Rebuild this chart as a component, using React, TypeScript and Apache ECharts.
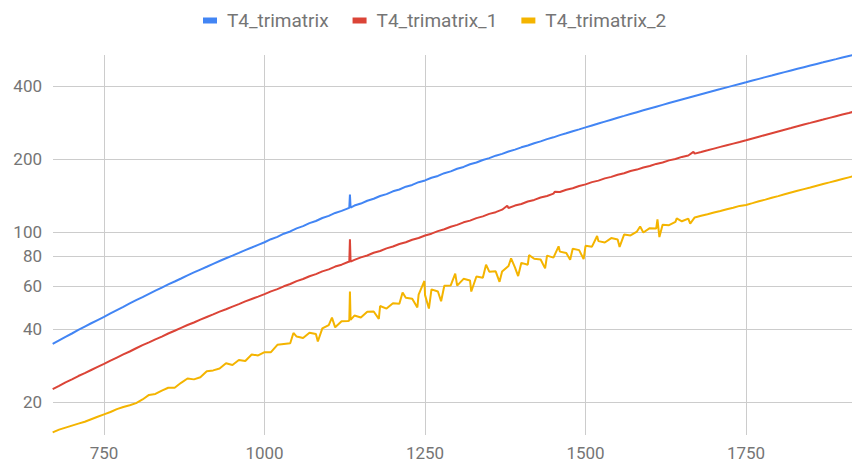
import React, { useEffect, useRef } from "react";
import * as echarts from "echarts";

// matrix size n (x axis)
const nValues = [
  670, 680, 690, 700, 710, 720, 730, 740, 750, 760,
  770, 780, 790, 800, 810, 820, 830, 840, 850, 860,
  870, 880, 890, 900, 910, 920, 930, 940, 950, 960,
  970, 980, 990, 1000, 1010, 1020, 1030, 1040, 1050, 1060,
  1070, 1080, 1090, 1100, 1110, 1120, 1130, 1140, 1150, 1160,
  1170, 1180, 1190, 1200, 1210, 1220, 1230, 1240, 1250, 1260,
  1270, 1280, 1290, 1300, 1310, 1320, 1330, 1340, 1350, 1360,
  1370, 1380, 1390, 1400, 1410, 1420, 1430, 1440, 1450, 1460,
  1470, 1480, 1490, 1500, 1510, 1520, 1530, 1540, 1550, 1560,
  1570, 1580, 1590, 1600, 1610, 1620, 1630, 1640, 1650, 1660,
  1670, 1680, 1690, 1700, 1710, 1720, 1730, 1740, 1750, 1760,
  1770, 1780, 1790, 1800, 1810, 1820, 1830, 1840, 1850, 1860,
  1870, 1880, 1890, 1900, 1910, 1920,
];

const trimatrix = [
  34.7, 35.9, 37.1, 38.3, 39.6, 40.9, 42.2, 43.5, 44.8, 46.3,
  47.8, 49.3, 50.9, 52.5, 54.1, 55.8, 57.5, 59.2, 61.0, 62.7,
  64.5, 66.4, 68.3, 70.2, 72.1, 74.1, 76.1, 78.1, 80.1, 82.2,
  84.4, 86.5, 88.7, 90.9, 93.6, 95.7, 98.6, 100.7, 103.7, 105.9,
  109.0, 111.2, 114.4, 116.7, 120.0, 122.4, 125.4, 128.7, 131.2, 134.7,
  137.3, 140.9, 143.5, 147.3, 149.9, 153.9, 156.5, 160.6, 163.3, 167.5,
  170.4, 174.9, 177.9, 182.5, 185.6, 190.3, 193.5, 198.3, 201.7, 206.5,
  210.1, 214.9, 218.7, 223.5, 227.5, 232.4, 236.5, 241.5, 245.7, 250.8,
  255.2, 260.3, 265.0, 269.9, 275.0, 280.1, 285.2, 290.4, 295.7, 301.0,
  306.4, 311.8, 317.3, 322.9, 328.5, 334.2, 339.9, 345.7, 351.6, 357.5,
  363.5, 369.6, 375.7, 381.9, 388.1, 394.5, 400.9, 407.3, 413.8, 420.8,
  427.6, 434.6, 441.5, 448.6, 455.8, 463.0, 470.3, 477.6, 485.0, 492.6,
  500.1, 507.8, 515.5, 523.4, 531.2, 539.2,
];

const trimatrix1 = [
  22.6, 23.3, 24.1, 24.8, 25.6, 26.3, 27.1, 27.9, 28.7, 29.6,
  30.5, 31.4, 32.3, 33.3, 34.3, 35.2, 36.2, 37.2, 38.3, 39.3,
  40.4, 41.5, 42.5, 43.7, 44.8, 45.9, 47.1, 48.2, 49.4, 50.6,
  51.9, 53.1, 54.3, 55.6, 57.1, 58.3, 59.9, 61.2, 62.9, 64.2,
  65.9, 67.2, 69.0, 70.3, 72.2, 73.5, 75.4, 76.9, 78.8, 80.2,
  82.3, 83.7, 85.8, 87.3, 89.4, 90.9, 93.1, 94.7, 96.9, 98.6,
  101.0, 102.8, 105.3, 107.2, 109.8, 111.6, 114.3, 116.2, 119.0, 120.9,
  123.8, 125.8, 128.7, 130.7, 133.7, 135.8, 138.9, 141.0, 144.1, 146.3,
  149.5, 151.7, 155.0, 157.3, 160.7, 163.0, 166.5, 168.9, 172.4, 174.9,
  178.5, 181.0, 184.7, 187.3, 191.0, 193.7, 197.5, 200.2, 204.1, 206.9,
  210.6, 213.9, 217.3, 220.8, 224.4, 227.9, 231.5, 235.1, 238.8, 243.1,
  247.2, 251.3, 255.5, 259.8, 264.1, 268.4, 272.8, 277.3, 281.7, 286.3,
  290.8, 295.5, 300.2, 304.9, 309.6, 314.5,
];

const trimatrix2 = [
  15.0, 15.4, 15.7, 16.0, 16.3, 16.6, 17.0, 17.4, 17.8, 18.2,
  18.7, 19.1, 19.4, 19.8, 20.5, 21.4, 21.6, 22.3, 22.9, 22.9,
  24.0, 25.0, 24.8, 25.3, 26.8, 27.0, 27.5, 28.9, 28.4, 29.8,
  29.5, 31.4, 31.1, 32.1, 32.1, 34.4, 34.7, 34.9, 37.2, 36.7,
  38.6, 38.1, 40.2, 41.5, 40.6, 43.0, 43.1, 45.4, 44.6, 47.1,
  47.2, 49.7, 48.5, 51.0, 50.8, 53.7, 53.2, 55.4, 55.1, 58.2,
  57.0, 60.2, 60.4, 60.3, 64.3, 63.3, 65.7, 64.9, 68.8, 69.0,
  68.9, 72.6, 71.7, 74.8, 73.5, 77.8, 77.2, 80.1, 78.6, 83.2,
  82.1, 85.5, 84.4, 87.9, 87.2, 91.9, 90.7, 94.6, 93.3, 97.8,
  97.0, 100.6, 99.7, 103.9, 103.5, 107.3, 106.9, 110.3, 110.9, 113.8,
  115.0, 116.8, 118.6, 120.5, 122.3, 124.2, 126.1, 128.3, 129.5, 131.7,
  134.0, 136.2, 138.5, 140.8, 143.2, 145.6, 148.0, 150.4, 152.8, 155.3,
  157.8, 160.3, 162.9, 165.5, 168.1, 170.7,
];

// isolated outliers (needles), incl. the one near n = 1133
const trimatrixExtraN = [1132, 1133, 1134];
const trimatrixExtraV = [125.9, 143.0, 126.3];

const trimatrix1ExtraN = [1132, 1133, 1134, 1378, 1452, 1668];
const trimatrix1ExtraV = [75.5, 93.5, 75.7, 128.5, 146.8, 214.0];

const trimatrix2ExtraN = [
  1045, 1083, 1105, 1132, 1133, 1134, 1178, 1215, 1238, 1249, 1256, 1275,
  1297, 1322, 1345, 1366, 1384, 1395, 1412, 1437, 1458, 1476, 1497, 1518,
  1553, 1585, 1612, 1615, 1642, 1663,
];
const trimatrix2ExtraV = [
  38.5, 35.5, 44.5, 43.3, 57.0, 43.6, 44.0, 56.5, 49.0, 63.0, 48.5, 52.0,
  67.5, 57.0, 73.5, 62.5, 78.0, 66.0, 80.5, 71.0, 87.5, 77.0, 77.5, 96.5,
  87.0, 105.5, 113.0, 95.5, 114.0, 108.5,
];

const xTicks = [750, 1000, 1250, 1500, 1750];
const yTicks = [20, 40, 60, 80, 100, 200, 400];

const seriesNames = ["T4_trimatrix", "T4_trimatrix_1", "T4_trimatrix_2"];
const seriesColors = ["#4285F4", "#DB4437", "#F4B400"];

function buildPoints(vals: number[], extraN: number[], extraV: number[]) {
  const pts: number[][] = nValues.map((n, i) => [n, vals[i]]);
  extraN.forEach((n, i) => pts.push([n, extraV[i]]));
  pts.sort((a, b) => a[0] - b[0]);
  return pts;
}

export default function App() {
  const ref = useRef<HTMLDivElement>(null);
  useEffect(() => {
    if (!ref.current) return;
    const chart = echarts.init(ref.current, null, { renderer: "svg" });
    const font = "Roboto, sans-serif";
    const allVals = [trimatrix, trimatrix1, trimatrix2];
    const allExtraN = [trimatrixExtraN, trimatrix1ExtraN, trimatrix2ExtraN];
    const allExtraV = [trimatrixExtraV, trimatrix1ExtraV, trimatrix2ExtraV];
    chart.setOption({
      animation: false,
      backgroundColor: "#ffffff",
      textStyle: { fontFamily: font },
      legend: {
        top: 6,
        left: 198,
        icon: "rect",
        itemWidth: 14,
        itemHeight: 6,
        itemGap: 24,
        textStyle: {
          fontSize: 19,
          color: "#757575",
          fontFamily: font,
          padding: [0, 0, 0, 5],
        },
        data: seriesNames,
      },
      grid: { left: 53, right: 0, top: 55, bottom: 26, containLabel: false },
      xAxis: {
        type: "value",
        min: 670.5,
        max: 1915,
        axisLine: { show: false },
        axisTick: { show: false, customValues: xTicks },
        axisLabel: {
          customValues: xTicks,
          formatter: (v: number) => String(v),
          fontSize: 17,
          color: "#757575",
          fontFamily: font,
          margin: 9,
        },
        splitLine: { show: true, lineStyle: { color: "#cccccc", width: 1 } },
      },
      yAxis: {
        type: "log",
        logBase: 10,
        min: 14.64,
        max: 536,
        axisLine: { show: false },
        axisTick: { show: false, customValues: yTicks },
        axisLabel: {
          customValues: yTicks,
          formatter: (v: number) => String(v),
          fontSize: 17,
          color: "#757575",
          fontFamily: font,
          margin: 11,
        },
        splitLine: { show: true, lineStyle: { color: "#cccccc", width: 1 } },
      },
      series: seriesNames.map((name, i) => ({
        name,
        type: "line",
        showSymbol: false,
        symbol: "none",
        color: seriesColors[i],
        lineStyle: { width: 2, color: seriesColors[i] },
        data: buildPoints(allVals[i], allExtraN[i], allExtraV[i]),
      })),
    });
    return () => chart.dispose();
  }, []);
  return (
    <div
      ref={ref}
      style={{ position: "fixed", left: 0, top: 0, width: 852, height: 461 }}
    />
  );
}
